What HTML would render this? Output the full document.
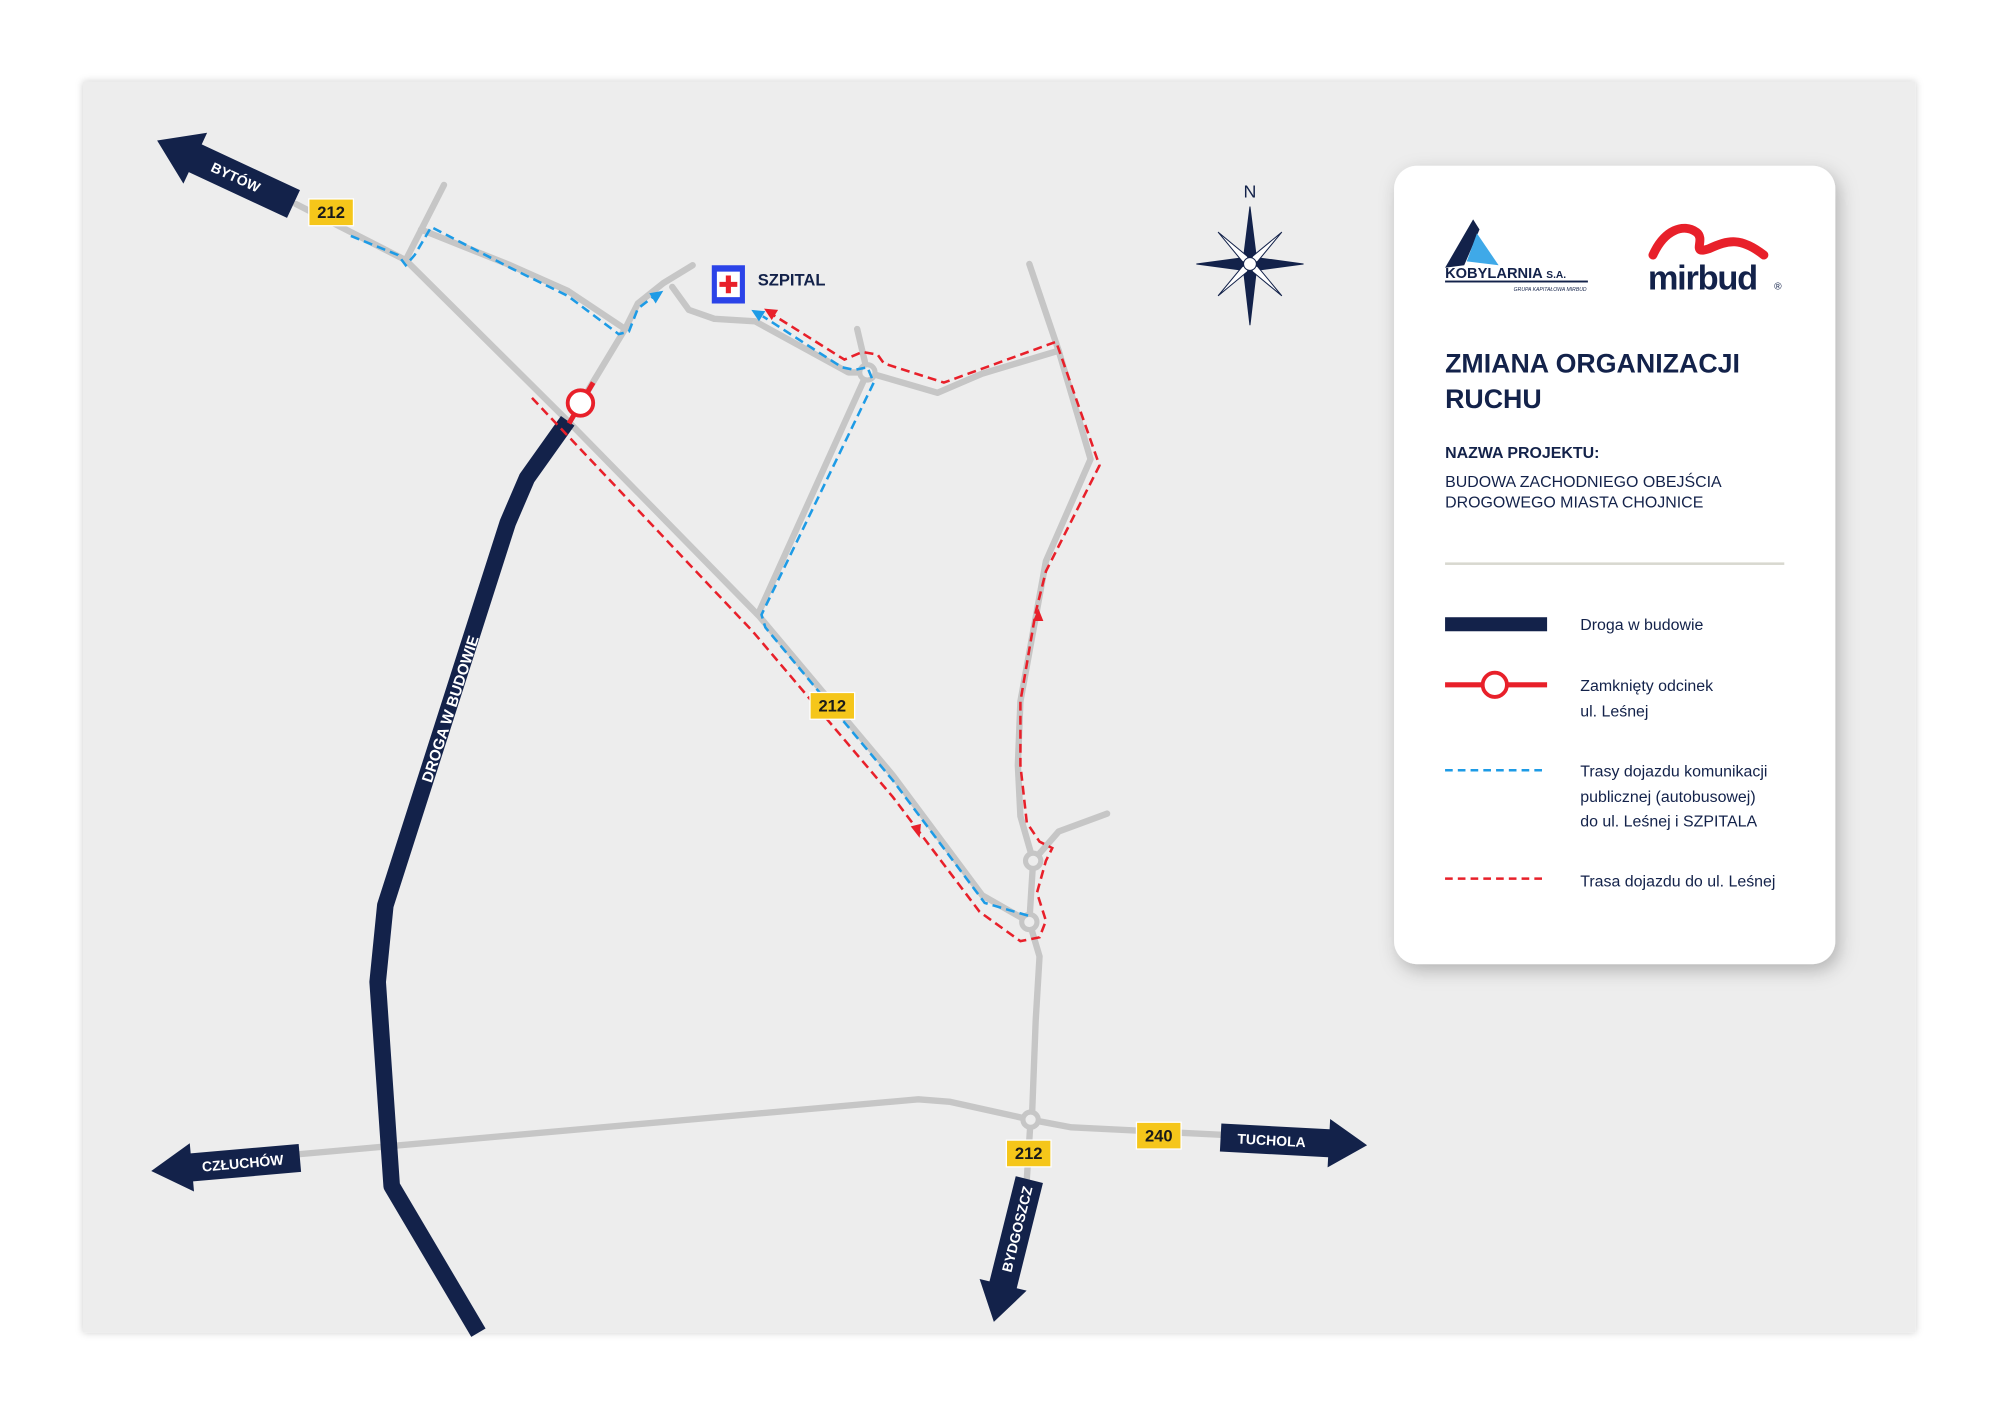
<!DOCTYPE html>
<html><head><meta charset="utf-8"><style>
html,body{margin:0;padding:0;background:#fff;}
svg{display:block;}
text{font-family:"Liberation Sans",sans-serif;}
</style></head><body>
<svg width="2000" height="1413" viewBox="0 0 1568 1108" xmlns="http://www.w3.org/2000/svg">
<defs>
<filter id="sh" x="-20%" y="-20%" width="140%" height="140%"><feDropShadow dx="3" dy="5" stdDeviation="7" flood-color="#000" flood-opacity="0.25"/></filter>
<filter id="sh2" x="-5%" y="-5%" width="110%" height="110%"><feDropShadow dx="0" dy="0" stdDeviation="3" flood-color="#000" flood-opacity="0.2"/></filter>
</defs>
<rect width="1568" height="1108" fill="#fff"/>
<rect x="65" y="64" width="1437" height="981" fill="#ededed" filter="url(#sh2)"/>

<g fill="none" stroke="#c6c6c6" stroke-width="5" stroke-linecap="round" stroke-linejoin="round">
<path d="M232,160 L318,204 L445,330 L595,483 L700,608 L770,702 L805,722"/>
<path d="M318,204 L348,145"/>
<path d="M330,180 L400,208 L445,228 L490,258"/>
<path d="M490,258 L500,238 L520,222 L543,208"/>
<path d="M490,258 L455,316"/>
<path d="M527,225 L540,243 L560,250 L592,252 L665,292 L680,292 L735,308 L770,293 L830,275"/>
<path d="M672,258 L680,292 L595,480"/>
<path d="M807,207 L830,275 L855,360 L820,440 L800,550 L798,600 L800,640 L810,675"/>
<path d="M810,675 L830,652 L868,638"/>
<path d="M810,675 L807,723 L815,750 L812,800 L809,878"/>
<path d="M235,905 L720,862 L745,864 L808,878 L840,884 L960,890"/>
<path d="M808,878 L805,925"/>
</g>
<g fill="#ededed" stroke="#c6c6c6" stroke-width="4">
<circle cx="680" cy="292" r="6"/><circle cx="810" cy="675" r="6"/><circle cx="807" cy="723" r="6"/><circle cx="808" cy="878" r="6"/>
</g>

<path d="M445,330 L413,375 L398,410 L302,710 L296,770 L307,930 L375,1045" fill="none" stroke="#13224a" stroke-width="13" stroke-linejoin="round"/>
<text transform="translate(353,556) rotate(-72)" text-anchor="middle" font-size="12" font-weight="bold" fill="#fff" dy="4">DROGA W BUDOWIE</text>

<g fill="none" stroke="#1d9be6" stroke-width="2" stroke-dasharray="7,4">
<path d="M275,185 L312,200 L318,208 L325,200 L338,178 L400,210 L445,232 L485,262 L493,260 L500,242 L513,232"/>
<path d="M806,718 L772,708 L700,612 L600,492 L597,482 L685,300 L680,288 L670,290 L660,288 L598,248"/>
</g>
<polygon points="520,228 509,230 514,238" fill="#1d9be6"/>
<polygon points="589,243 600,244 595,252" fill="#1d9be6"/>

<g fill="none" stroke="#e8202a" stroke-width="2" stroke-dasharray="7,4">
<path d="M417,312 L590,495 L700,625 L768,715 L800,738 L815,735 L820,722 L813,700 L820,675 L825,665 L815,660 L805,645 L800,600 L800,550 L812,480 L820,448 L862,365 L828,268 L740,300 L693,285 L688,278 L676,276 L662,282 L603,245"/>
</g>
<polygon points="721,657 714,648 722,646" fill="#e8202a"/>
<polygon points="814,477 810,487 818,487" fill="#e8202a"/>
<polygon points="599,242 610,243 605,251" fill="#e8202a"/>

<path d="M446,332 L465,300" stroke="#e8202a" stroke-width="4"/>
<circle cx="455" cy="316" r="10" fill="#fff" stroke="#e8202a" stroke-width="3"/>

<g fill="#13224a">
<g transform="translate(230,160) rotate(205)"><polygon points="0,-12 85,-12 85,-22 118,0 85,22 85,12 0,12"/><text x="50" y="4" transform="rotate(180 50 0)" text-anchor="middle" font-size="11" font-weight="bold" fill="#fff">BYTÓW</text></g>
<g transform="translate(235,908) rotate(175)"><polygon points="0,-11 85,-11 85,-19 117,0 85,19 85,11 0,11"/><text x="45" y="4" transform="rotate(180 45 0)" text-anchor="middle" font-size="11" font-weight="bold" fill="#fff">CZŁUCHÓW</text></g>
<g transform="translate(957,892) rotate(3)"><polygon points="0,-11 85,-11 85,-19 115,0 85,19 85,11 0,11"/><text x="40" y="4" text-anchor="middle" font-size="11" font-weight="bold" fill="#fff">TUCHOLA</text></g>
<g transform="translate(807,925) rotate(104)"><polygon points="0,-11 85,-11 85,-19 115,0 85,19 85,11 0,11"/><text x="40" y="4" transform="rotate(180 40 0)" text-anchor="middle" font-size="11" font-weight="bold" fill="#fff">BYDGOSZCZ</text></g>
</g>

<g font-size="13" font-weight="bold" text-anchor="middle" fill="#1a1a1a">
<rect x="242" y="156" width="35" height="21" fill="#f5c61a" stroke="#fff"/><text x="259.5" y="171">212</text>
<rect x="635" y="543" width="35" height="21" fill="#f5c61a" stroke="#fff"/><text x="652.5" y="558">212</text>
<rect x="789" y="894" width="35" height="21" fill="#f5c61a" stroke="#fff"/><text x="806.5" y="909">212</text>
<rect x="891" y="880" width="35" height="21" fill="#f5c61a" stroke="#fff"/><text x="908.5" y="895">240</text>
</g>

<rect x="558" y="208" width="26" height="30" fill="#2b43e8"/>
<rect x="562" y="213" width="18" height="20" fill="#fff"/>
<path d="M571,216 L571,230 M564,223 L578,223" stroke="#e8202a" stroke-width="4"/>
<text x="594" y="224" font-size="13" font-weight="bold" fill="#13224a">SZPITAL</text>

<g transform="translate(980,207)" fill="#13224a" stroke="#13224a" stroke-width="0.8">
<polygon points="0,-45 5,-5 0,0 -5,-5" /><polygon points="0,48 5,5 0,0 -5,5"/>
<polygon points="-42,0 -5,-5 0,0 -5,5"/><polygon points="42,0 5,-5 0,0 5,5"/>
<polygon points="-25,-25 -2,-6 0,0 -6,-2" fill="#fff"/><polygon points="25,-25 2,-6 0,0 6,-2" fill="#fff"/>
<polygon points="-25,25 -2,6 0,0 -6,2" fill="#fff"/><polygon points="25,25 2,6 0,0 6,2" fill="#fff"/>
<circle r="5" fill="#fff"/>
<text x="0" y="-52" text-anchor="middle" font-size="14" stroke="none">N</text>
</g>

<rect x="1093" y="130" width="346" height="626" rx="18" fill="#fff" filter="url(#sh)"/>
<polygon points="1133,210 1155,172 1160,180 1148,208" fill="#13224a"/>
<polygon points="1150,205 1158,183 1175,208" fill="#3fa9e8"/>
<text x="1133" y="218" font-size="11.5" font-weight="bold" fill="#13224a">KOBYLARNIA <tspan font-size="8">S.A.</tspan></text>
<rect x="1133" y="220" width="112" height="1.5" fill="#13224a"/>
<text x="1244" y="228" font-size="4" text-anchor="end" fill="#13224a" font-style="italic">GRUPA KAPITAŁOWA MIRBUD</text>
<path d="M1296,200 C1305,180 1320,175 1330,182 C1338,188 1325,200 1340,195 C1355,188 1365,186 1383,200" fill="none" stroke="#e8202a" stroke-width="7" stroke-linecap="round"/>
<text x="1292" y="227" font-size="27" font-weight="bold" fill="#13224a" letter-spacing="-1">mirbud</text>
<text x="1391" y="227" font-size="8" fill="#13224a">®</text>

<text x="1133" y="292" font-size="21" font-weight="bold" fill="#13224a">ZMIANA ORGANIZACJI</text>
<text x="1133" y="320" font-size="21" font-weight="bold" fill="#13224a">RUCHU</text>
<text x="1133" y="359" font-size="12.5" font-weight="bold" fill="#13224a">NAZWA PROJEKTU:</text>
<text x="1133" y="382" font-size="12.5" fill="#13224a">BUDOWA ZACHODNIEGO OBEJŚCIA</text>
<text x="1133" y="398" font-size="12.5" fill="#13224a">DROGOWEGO MIASTA CHOJNICE</text>
<rect x="1133" y="441" width="266" height="2" fill="#d8d8d0"/>

<rect x="1133" y="484" width="80" height="11" fill="#13224a"/>
<text x="1239" y="494" font-size="12.5" fill="#13224a">Droga w budowie</text>
<path d="M1133,537 L1213,537" stroke="#e8202a" stroke-width="4"/>
<circle cx="1172" cy="537" r="9.5" fill="#fff" stroke="#e8202a" stroke-width="3"/>
<text x="1239" y="542" font-size="12.5" fill="#13224a">Zamknięty odcinek</text>
<text x="1239" y="562" font-size="12.5" fill="#13224a">ul. Leśnej</text>
<path d="M1133,604 L1213,604" stroke="#1d9be6" stroke-width="2" stroke-dasharray="6,4"/>
<text x="1239" y="609" font-size="12.5" fill="#13224a">Trasy dojazdu komunikacji</text>
<text x="1239" y="629" font-size="12.5" fill="#13224a">publicznej (autobusowej)</text>
<text x="1239" y="648" font-size="12.5" fill="#13224a">do ul. Leśnej i SZPITALA</text>
<path d="M1133,689 L1213,689" stroke="#e8202a" stroke-width="2" stroke-dasharray="6,4"/>
<text x="1239" y="695" font-size="12.5" fill="#13224a">Trasa dojazdu do ul. Leśnej</text>
</svg>
</body></html>
